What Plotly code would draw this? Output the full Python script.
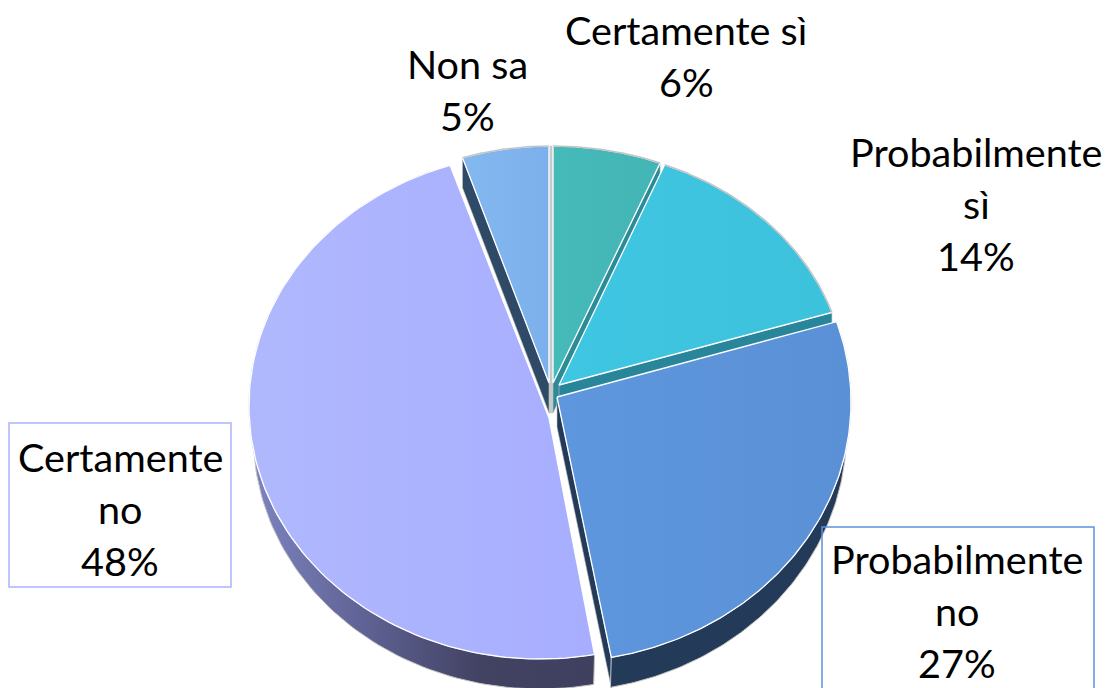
import numpy as np
import plotly.graph_objects as go

# ---- data ----
categories = ["Certamente sì", "Probabilmente sì", "Probabilmente no", "Certamente no", "Non sa"]
values = [6, 14, 27, 48, 5]
label_lines = [["Certamente sì", "6%"], ["Probabilmente", "sì", "14%"], ["Probabilmente", "no", "27%"],
               ["Certamente", "no", "48%"], ["Non sa", "5%"]]

# ---- style / projection (one entry per slice, same order as categories) ----
top_colors = [("#46b9b9", "#43b5b5"), ("#3fc6e2", "#3dc2dc"), ("#5e97de", "#5a90d6"),
              ("#b0b8fd", "#a8aeff"), ("#84b8f0", "#7bb0ec")]
wall_colors = [("#2b8c98", "#2b8c98"), ("#29869a", "#29869a"), ("#233a58", "#233a58"),
               ("#7d84c0", "#5f6294", "#424263", "#3f3f60"), ("#2e4a66", "#2e4a66")]
# apex x,y / ellipse centre x,y / radii rx,ry
proj = [(553, 383, 553, 389, 291, 243), (559, 385, 559, 386, 287, 238), (557, 397, 556, 402, 295, 260),
        (549, 418, 540, 406, 291, 253), (549, 383, 549, 386, 280, 240)]
DEPTH = 30
FLOOR_SCALE = 0.985   # the lower rim is drawn a little narrower (perspective)
label_pos = [(686, 29), (976, 151), (957, 558), (120, 456), (467, 63)]
LINE_H = 52
boxes = [None, None, (822, 527, 1094, 700, "#5b93da"), (9, 423, 231, 587, "#abb2ff"), None]
GAP_GREY = "#c8c8c8"

shares = np.array(values) / sum(values)
ends = np.cumsum(shares) * 2 * np.pi
starts = ends - shares * 2 * np.pi


def arc(i, n=120):
    ax, ay, ex, ey, rx, ry = proj[i]
    t = np.linspace(starts[i], ends[i], n)
    return ex + rx * np.sin(t), ey - ry * np.cos(t)


def poly(x, y, colors, line, width=1.0):
    stops = np.linspace(0, 1, len(colors))
    return go.Scatter(
        x=x, y=y, mode="lines", fill="toself",
        fillgradient=dict(type="horizontal", colorscale=[[float(s), c] for s, c in zip(stops, colors)]),
        line=dict(color=line, width=width), hoverinfo="skip", showlegend=False,
    )


def wall_edge(i, which):
    ax, ay, *_ = proj[i]
    x, y = arc(i)
    px, py = (x[0], y[0]) if which == "start" else (x[-1], y[-1])
    return ([ax, px, px, ax, ax], [ay, py, py + DEPTH, ay + DEPTH, ay])


def wall_arc(i):
    ex = proj[i][2]
    x, y = arc(i)
    fx = ex + (x - ex) * FLOOR_SCALE
    return (np.r_[x, fx[::-1], x[0]], np.r_[y, y[::-1] + DEPTH, y[0]])


fig = go.Figure()
# grey seam between the two rear slices (last slice's end to first slice's start)
x4, y4 = arc(4)
x0, y0 = arc(0)
fig.add_trace(poly([proj[4][0], x4[-1], x0[0], proj[0][0], proj[4][0]],
                   [proj[4][1] + DEPTH, y4[-1], y0[0], proj[0][1] + DEPTH, proj[4][1] + DEPTH],
                   (GAP_GREY, GAP_GREY), GAP_GREY, 0.5))

# painter's order: back slices first
order = [(4, ["start"], False), (0, ["end"], False), (1, ["end"], False),
         (3, [], True), (2, ["end"], True)]
for i, edges, outer in order:
    for e in edges:
        wx, wy = wall_edge(i, e)
        fig.add_trace(poly(wx, wy, wall_colors[i], "#c4c4c4", 0.6))
    if outer:
        wx, wy = wall_arc(i)
        fig.add_trace(poly(wx, wy, wall_colors[i], "#c4c4c4", 1))
    x, y = arc(i)
    ax, ay, *_ = proj[i]
    fig.add_trace(poly(np.r_[ax, x, ax], np.r_[ay, y, ay], top_colors[i], "#ffffff", 1.3))
    if not outer:
        fig.add_trace(go.Scatter(x=x, y=y, mode="lines", line=dict(color="#c4c4c4", width=1.5),
                                 hoverinfo="skip", showlegend=False))

annotations = []
for lines, (cx, cy) in zip(label_lines, label_pos):
    for k, s in enumerate(lines):
        annotations.append(dict(x=cx, y=cy + k * LINE_H, text=s, showarrow=False, xref="x", yref="y",
                                xanchor="center", yanchor="middle",
                                font=dict(family="Lato", size=39.6, color="#000000")))

shapes = [dict(type="rect", x0=b[0], y0=b[1], x1=b[2], y1=b[3], xref="x", yref="y",
               line=dict(color=b[4], width=1.5), fillcolor="rgba(0,0,0,0)")
          for b in boxes if b]

fig.update_layout(
    width=1109, height=688, margin=dict(l=0, r=0, t=0, b=0),
    paper_bgcolor="white", plot_bgcolor="white", showlegend=False,
    xaxis=dict(range=[0, 1109], visible=False, fixedrange=True),
    yaxis=dict(range=[688, 0], visible=False, fixedrange=True),
    annotations=annotations, shapes=shapes,
)
fig.write_html("out.html", config={"displayModeBar": False},
               post_script="document.body.style.margin='0';document.documentElement.style.overflow='hidden';")
